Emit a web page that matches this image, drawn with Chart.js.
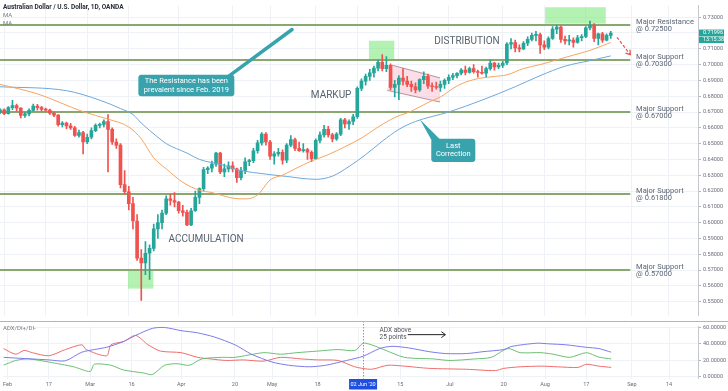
<!DOCTYPE html>
<html>
<head>
<meta charset="utf-8">
<script src="https://cdn.jsdelivr.net/npm/chart.js@4.4.1/dist/chart.umd.min.js"></script>
<style>
  html, body { margin: 0; padding: 0; background: #fff; }
  #wrap { position: relative; width: 728px; height: 391px; overflow: hidden; }
  #price { position: absolute; left: 0; top: 0; }
  #adx { position: absolute; left: 0; top: 321px; }
</style>
</head>
<body>
<div id="wrap">
  <canvas id="price" width="728" height="321"></canvas>
  <canvas id="adx" width="728" height="70"></canvas>
</div>
<script>
// AUD/USD daily candles, Jan 31 .. Aug 25 2020 (trading day index -1 .. 146, Feb 3 = 0)
const opens = [
  0.6697,
  0.6714,0.6690,0.6728,0.6740,0.6725, 0.6678,0.6688,0.6710,0.6738,0.6728,
  0.6716,0.6712,0.6692,0.6680,0.6620, 0.6630,0.6612,0.6600,0.6552,0.6570,
  0.6510,0.6540,0.6582,0.6615,0.6622, 0.6640,0.6590,0.6510,0.6490,0.6240,
  0.6195,0.6120,0.6010,0.5775,0.5745, 0.5806,0.5837,0.5960,0.6000,0.6060,
  0.6150,0.6140,0.6130,0.6075,0.6065, 0.5985,0.6075,0.6160,0.6215,0.6335,
  0.6345,0.6370,0.6440,0.6320,0.6340, 0.6360,0.6340,0.6285,0.6330,0.6385,
  0.6392,0.6455,0.6505,0.6560,0.6510, 0.6420,0.6435,0.6445,0.6395,0.6490,
  0.6525,0.6470,0.6455,0.6462,0.6445, 0.6405,0.6520,0.6555,0.6590,0.6555,
  0.6530,0.6560,0.6650,0.6625,0.6640, 0.6670,0.6850,0.6895,0.6925,0.6948,
  0.6978,0.7015,0.6975,0.6995,0.6855, 0.6875,0.6915,0.6895,0.6875,0.6860,
  0.6840,0.6905,0.6925,0.6865,0.6860, 0.6855,0.6875,0.6900,0.6920,0.6930,
  0.6945,0.6965,0.6950,0.6975,0.6955, 0.6950,0.6945,0.6975,0.7010,0.6985,
  0.6995,0.7010,0.7130,0.7140,0.7105, 0.7100,0.7135,0.7160,0.7185,0.7190,
  0.7125,0.7110,0.7165,0.7225,0.7238, 0.7160,0.7150,0.7155,0.7140,0.7170,
  0.7178,0.7232,0.7250,0.7165,0.7195, 0.7155,0.7185
];
const highs = [
  0.6721,
  0.6720,0.6735,0.6774,0.6750,0.6728, 0.6700,0.6720,0.6750,0.6748,0.6736,
  0.6725,0.6718,0.6700,0.6684,0.6640, 0.6636,0.6628,0.6610,0.6585,0.6578,
  0.6560,0.6600,0.6625,0.6630,0.6650, 0.6684,0.6600,0.6530,0.6500,0.6330,
  0.6230,0.6160,0.6050,0.5830,0.5880, 0.5860,0.5990,0.6050,0.6080,0.6170,
  0.6180,0.6190,0.6135,0.6110,0.6080, 0.6090,0.6200,0.6220,0.6350,0.6355,
  0.6390,0.6445,0.6445,0.6370,0.6385, 0.6385,0.6345,0.6350,0.6410,0.6400,
  0.6470,0.6520,0.6570,0.6570,0.6520, 0.6450,0.6470,0.6460,0.6500,0.6550,
  0.6535,0.6510,0.6500,0.6470,0.6455, 0.6530,0.6575,0.6615,0.6610,0.6565,
  0.6570,0.6660,0.6660,0.6650,0.6685, 0.6860,0.6910,0.6940,0.6970,0.6990,
  0.7030,0.7064,0.7050,0.7005,0.6900, 0.6930,0.6975,0.6925,0.6895,0.6885,
  0.6910,0.6955,0.6940,0.6885,0.6890, 0.6895,0.6910,0.6935,0.6945,0.6950,
  0.6975,0.6990,0.6985,0.7000,0.6965, 0.6990,0.6985,0.7030,0.7015,0.7010,
  0.7020,0.7140,0.7165,0.7155,0.7125, 0.7145,0.7175,0.7200,0.7210,0.7200,
  0.7150,0.7175,0.7240,0.7250,0.7245, 0.7180,0.7185,0.7170,0.7185,0.7190,
  0.7240,0.7276,0.7260,0.7200,0.7205, 0.7195,0.7210
];
const lows = [
  0.6690,
  0.6683,0.6687,0.6715,0.6705,0.6662, 0.6665,0.6675,0.6705,0.6712,0.6705,
  0.6703,0.6685,0.6670,0.6610,0.6605, 0.6595,0.6590,0.6545,0.6540,0.6434,
  0.6500,0.6530,0.6575,0.6600,0.6605, 0.6320,0.6495,0.6470,0.6220,0.6180,
  0.6080,0.5960,0.5760,0.5508,0.5670, 0.5640,0.5820,0.5900,0.5960,0.6050,
  0.6110,0.6100,0.6060,0.6040,0.5980, 0.5980,0.6070,0.6120,0.6200,0.6310,
  0.6320,0.6355,0.6310,0.6290,0.6320, 0.6320,0.6255,0.6270,0.6310,0.6360,
  0.6380,0.6440,0.6490,0.6490,0.6400, 0.6370,0.6420,0.6370,0.6380,0.6480,
  0.6455,0.6450,0.6445,0.6400,0.6385, 0.6400,0.6505,0.6540,0.6540,0.6510,
  0.6520,0.6550,0.6600,0.6590,0.6620, 0.6660,0.6835,0.6870,0.6900,0.6920,
  0.6960,0.6960,0.6955,0.6840,0.6795, 0.6778,0.6870,0.6860,0.6830,0.6820,
  0.6830,0.6880,0.6850,0.6830,0.6845, 0.6830,0.6850,0.6880,0.6905,0.6915,
  0.6935,0.6935,0.6945,0.6945,0.6920, 0.6940,0.6920,0.6965,0.6965,0.6975,
  0.6980,0.7000,0.7100,0.7080,0.7080, 0.7095,0.7120,0.7150,0.7150,0.7070,
  0.7095,0.7100,0.7160,0.7195,0.7140, 0.7130,0.7125,0.7110,0.7135,0.7150,
  0.7170,0.7220,0.7145,0.7125,0.7140, 0.7150,0.7165
];
const closes = [
  0.6714,
  0.6690,0.6728,0.6740,0.6725,0.6678, 0.6688,0.6710,0.6738,0.6728,0.6716,
  0.6712,0.6692,0.6680,0.6620,0.6630, 0.6612,0.6600,0.6552,0.6570,0.6510,
  0.6540,0.6582,0.6615,0.6622,0.6640, 0.6590,0.6510,0.6490,0.6240,0.6195,
  0.6120,0.6010,0.5775,0.5745,0.5806, 0.5837,0.5960,0.6000,0.6060,0.6150,
  0.6140,0.6130,0.6075,0.6065,0.5985, 0.6075,0.6160,0.6215,0.6335,0.6345,
  0.6370,0.6440,0.6320,0.6340,0.6360, 0.6340,0.6285,0.6330,0.6385,0.6392,
  0.6455,0.6505,0.6560,0.6510,0.6420, 0.6435,0.6445,0.6395,0.6490,0.6525,
  0.6470,0.6455,0.6462,0.6445,0.6405, 0.6520,0.6555,0.6590,0.6555,0.6530,
  0.6560,0.6650,0.6625,0.6640,0.6670, 0.6850,0.6895,0.6925,0.6948,0.6978,
  0.7015,0.6975,0.6995,0.6855,0.6875, 0.6915,0.6895,0.6875,0.6860,0.6840,
  0.6905,0.6925,0.6865,0.6860,0.6855, 0.6875,0.6900,0.6920,0.6930,0.6945,
  0.6965,0.6950,0.6975,0.6955,0.6950, 0.6945,0.6975,0.7010,0.6985,0.6995,
  0.7010,0.7130,0.7140,0.7105,0.7100, 0.7135,0.7160,0.7185,0.7190,0.7125,
  0.7110,0.7165,0.7225,0.7238,0.7160, 0.7150,0.7155,0.7140,0.7170,0.7178,
  0.7232,0.7250,0.7165,0.7195,0.7155, 0.7185,0.7200
];
const firstDay = -1;

// moving averages (trading day index -> price)
const maFastDays = [-1, 8, 19, 25, 30, 33, 36, 39, 43, 47, 50, 55, 58, 61, 64, 67, 70, 74, 78, 82, 86, 90, 94, 98, 102, 105, 109, 113, 118, 121, 125, 129, 133, 137, 141, 146];
const maFast = [0.6875, 0.6815, 0.6702, 0.6655, 0.6605, 0.6530, 0.6410, 0.6340, 0.6255, 0.6205, 0.6190, 0.6155, 0.6150, 0.6175, 0.6270, 0.6300, 0.6340, 0.6390, 0.6430, 0.6480, 0.6535, 0.6605, 0.6665, 0.6705, 0.6760, 0.6795, 0.6865, 0.6905, 0.6925, 0.6935, 0.6975, 0.7000, 0.7030, 0.7060, 0.7090, 0.7140];
const maSlowDays = [-1, 15, 23, 28, 31, 33, 37, 39, 44, 47, 53, 56, 60, 68, 75, 79, 83, 87, 91, 95, 99, 107, 115, 123, 129, 135, 141, 146];
const maSlow = [0.6860, 0.6835, 0.6775, 0.6722, 0.6684, 0.6630, 0.6540, 0.6500, 0.6440, 0.6400, 0.6362, 0.6335, 0.6317, 0.6292, 0.6274, 0.6294, 0.6355, 0.6430, 0.6515, 0.6590, 0.6640, 0.6700, 0.6775, 0.6860, 0.6930, 0.6990, 0.7025, 0.7055];

// ADX / DI+ / DI-
const adxDays = [-1, 10, 14, 18, 24, 28, 31, 35, 38, 42, 46, 50, 55, 59, 64, 68, 73, 77, 82, 86, 90, 93, 97, 102, 106, 111, 115, 120, 122, 128, 131, 135, 140, 143, 146];
const adx = [23.7, 20.6, 19.5, 30.0, 36.0, 42.8, 50.4, 58.9, 60.0, 56.2, 53.5, 48.5, 39.0, 27.5, 18.0, 14.1, 12.2, 14.1, 19.9, 25.0, 34.4, 37.1, 35.2, 30.6, 28.3, 28.3, 30.6, 33.2, 37.1, 40.9, 40.1, 39.0, 35.9, 34.4, 30.0];
const diPlusDays = [-1, 2, 5, 10, 16, 20, 21, 25, 28, 33, 35, 38, 41, 44, 47, 52, 55, 62, 66, 70, 75, 80, 84, 86, 88, 91, 96, 103, 107, 113, 117, 121, 124, 129, 132, 136, 140, 143, 146];
const diPlus = [14.1, 19.9, 21.8, 18.0, 12.2, 6.5, 15.3, 14.1, 8.4, 4.6, 2.7, 14.1, 16.0, 14.1, 21.8, 23.7, 23.7, 29.4, 27.5, 29.4, 31.3, 33.2, 32.0, 40.9, 39.0, 33.2, 23.7, 21.8, 19.9, 21.8, 23.7, 34.4, 29.4, 29.4, 27.5, 23.7, 29.4, 24.0, 21.8];
const diMinusDays = [-1, 2, 4, 6, 10, 14, 18, 19, 24, 25, 28, 31, 34, 37, 42, 46, 49, 53, 57, 62, 66, 71, 75, 80, 84, 88, 92, 96, 102, 111, 118, 120, 124, 129, 133, 138, 140, 143, 146];
const diMinus = [34.4, 27.5, 32.1, 29.4, 25.6, 33.2, 39.0, 33.2, 25.6, 39.0, 42.8, 50.4, 39.0, 31.3, 29.4, 23.7, 21.8, 19.9, 20.6, 19.1, 23.7, 21.8, 20.6, 19.9, 12.2, 9.2, 14.1, 13.0, 10.3, 9.2, 7.6, 10.3, 12.2, 13.0, 12.2, 11.5, 15.3, 13.0, 11.5];

// axes
const tickDays = [0, 10, 20, 30, 42, 55, 64, 75, 85, 95, 107, 120, 130, 140, 151, 160];
const tickText = ['Feb', '17', 'Mar', '16', 'Apr', '20', 'May', '18', 'Jun', '15', 'Jul', '20', 'Aug', '17', 'Sep', '14'];
const priceTicks = [0.55, 0.56, 0.57, 0.58, 0.59, 0.60, 0.61, 0.62, 0.63, 0.64, 0.65, 0.66, 0.67, 0.68, 0.69, 0.70, 0.71, 0.72, 0.73];
const adxTicks = [0, 20, 40, 60];

// support / resistance levels
const levelPrices = [0.725, 0.703, 0.67, 0.618, 0.57];
const levelNames = ['Major Resistance', 'Major Support', 'Major Support', 'Major Support', 'Major Support'];
const lastPrice = 0.71996;

Chart.defaults.font.family = "Roboto, 'Liberation Sans', sans-serif";
const UP = '#26a69a', DOWN = '#ef5350';
const GRID = '#eef1f6';
const AXIS_TXT = '#6a6d78';
const candleColor = ctx => closes[ctx.dataIndex] >= opens[ctx.dataIndex] ? UP : DOWN;

const days = closes.map((c, i) => firstDay + i);
const xScale = () => ({
  type: 'linear', min: -1, max: 167, offset: false,
  grid: { color: GRID, drawTicks: false, offset: false },
  border: { display: false },
  afterBuildTicks: s => { s.ticks = tickDays.map(v => ({ value: v })); }
});

function roundRect(ctx, x, y, w, h, r) {
  ctx.beginPath();
  ctx.moveTo(x + r, y);
  ctx.arcTo(x + w, y, x + w, y + h, r);
  ctx.arcTo(x + w, y + h, x, y + h, r);
  ctx.arcTo(x, y + h, x, y, r);
  ctx.arcTo(x, y, x + w, y, r);
  ctx.closePath();
}

const priceMarks = {
  id: 'priceMarks',
  beforeDatasetsDraw(chart) {
    const { ctx } = chart;
    const X = v => chart.scales.x.getPixelForValue(v);
    const Y = v => chart.scales.y.getPixelForValue(v);
    ctx.save();
    // green zones
    ctx.fillStyle = 'rgba(128, 234, 128, 0.6)';
    [[130.2, 144.8, 0.7363, 0.7259], [87.8, 93.9, 0.7151, 0.7034], [29.8, 35.9, 0.5705, 0.5582]].forEach(z => {
      ctx.fillRect(X(z[0]), Y(z[2]), X(z[1]) - X(z[0]), Y(z[3]) - Y(z[2]));
    });
    // flag channel
    const flag = [[93.4, 0.6996], [104.9, 0.6916], [104.9, 0.6763], [92.2, 0.6837]];
    ctx.beginPath();
    flag.forEach((p, i) => i ? ctx.lineTo(X(p[0]), Y(p[1])) : ctx.moveTo(X(p[0]), Y(p[1])));
    ctx.closePath();
    ctx.fillStyle = 'rgba(249, 190, 205, 0.5)';
    ctx.fill();
    ctx.strokeStyle = 'rgba(170, 140, 150, 0.9)';
    ctx.lineWidth = 1;
    ctx.beginPath();
    ctx.moveTo(X(flag[0][0]), Y(flag[0][1])); ctx.lineTo(X(flag[1][0]), Y(flag[1][1]));
    ctx.moveTo(X(flag[3][0]), Y(flag[3][1])); ctx.lineTo(X(flag[2][0]), Y(flag[2][1]));
    ctx.stroke();
    // levels
    ctx.strokeStyle = '#88a771';
    ctx.lineWidth = 2;
    levelPrices.forEach(p => {
      ctx.beginPath();
      ctx.moveTo(X(-1), Math.round(Y(p)));
      ctx.lineTo(X(150.7), Math.round(Y(p)));
      ctx.stroke();
    });
    ctx.restore();
  },
  afterDatasetsDraw(chart) {
    const { ctx } = chart;
    const X = v => chart.scales.x.getPixelForValue(v);
    const Y = v => chart.scales.y.getPixelForValue(v);
    ctx.save();
    // level labels
    ctx.fillStyle = '#5b6575';
    ctx.font = '7.5px Roboto';
    ctx.textAlign = 'left';
    ctx.textBaseline = 'middle';
    levelPrices.forEach((p, i) => {
      ctx.fillText(levelNames[i], X(152.1), Y(p) - 3);
      ctx.fillText('@ ' + p.toFixed(5), X(152.1), Y(p) + 4);
    });
    // phase labels
    ctx.fillStyle = '#59636f';
    ctx.font = '10px Roboto';
    ctx.textAlign = 'center';
    ctx.fillText('ACCUMULATION', X(48.6), Y(0.5894));
    ctx.fillText('MARKUP', X(78.7), Y(0.6806));
    ctx.fillText('DISTRIBUTION', X(111.4), Y(0.7149));
    // callout 1
    const teal = '#38a3ad';
    ctx.strokeStyle = teal;
    ctx.lineWidth = 3.5;
    ctx.lineCap = 'round';
    ctx.beginPath();
    ctx.moveTo(X(54.0), Y(0.6925));
    ctx.lineTo(X(69.3), Y(0.7222));
    ctx.stroke();
    ctx.fillStyle = teal;
    roundRect(ctx, X(32.3), Y(0.6936), X(55.4) - X(32.3), Y(0.6800) - Y(0.6936), 3);
    ctx.fill();
    ctx.fillStyle = '#fff';
    ctx.font = '7.5px Roboto';
    const c1x = (X(32.3) + X(55.4)) / 2, c1y = (Y(0.6936) + Y(0.6800)) / 2;
    ctx.fillText('The Resistance has been', c1x, c1y - 4.5);
    ctx.fillText('prevalent since Feb. 2019', c1x, c1y + 4.5);
    // callout 2
    ctx.fillStyle = teal;
    ctx.beginPath();
    ctx.moveTo(X(100.1), Y(0.6653));
    ctx.lineTo(X(102.9), Y(0.6520));
    ctx.lineTo(X(105.0), Y(0.6525));
    ctx.closePath();
    ctx.fill();
    roundRect(ctx, X(102.8), Y(0.6530), X(113.4) - X(102.8), Y(0.6383) - Y(0.6530), 3);
    ctx.fill();
    ctx.fillStyle = '#fff';
    const c2x = (X(102.8) + X(113.4)) / 2, c2y = (Y(0.6530) + Y(0.6383)) / 2;
    ctx.fillText('Last', c2x, c2y - 4);
    ctx.fillText('Correction', c2x, c2y + 4);
    // red dashed arrow
    const ax0 = X(147.5), ay0 = Y(0.7173), ax1 = X(150.7), ay1 = Y(0.7063);
    ctx.strokeStyle = '#e5534b';
    ctx.lineWidth = 1.2;
    ctx.lineCap = 'butt';
    ctx.setLineDash([3, 2]);
    ctx.beginPath(); ctx.moveTo(ax0, ay0); ctx.lineTo(ax1, ay1); ctx.stroke();
    ctx.setLineDash([]);
    const ang = Math.atan2(ay1 - ay0, ax1 - ax0);
    ctx.beginPath();
    ctx.moveTo(ax1 - 5 * Math.cos(ang - 0.6), ay1 - 5 * Math.sin(ang - 0.6));
    ctx.lineTo(ax1, ay1);
    ctx.lineTo(ax1 - 5 * Math.cos(ang + 0.6), ay1 - 5 * Math.sin(ang + 0.6));
    ctx.stroke();
    ctx.restore();
  },
  afterDraw(chart) {
    const { ctx } = chart;
    const Y = v => chart.scales.y.getPixelForValue(v);
    ctx.save();
    ctx.textAlign = 'left';
    ctx.textBaseline = 'middle';
    ctx.fillStyle = '#2a2e39';
    ctx.font = 'bold 6.5px Roboto';
    ctx.fillText('Australian Dollar / U.S. Dollar, 1D, OANDA', 3, 7);
    ctx.fillStyle = '#787b86';
    ctx.font = '6px Roboto';
    ctx.fillText('MA', 3, 15);
    ctx.fillText('MA', 3, 23.5);
    // last price badges
    const ly = Y(lastPrice);
    ctx.fillStyle = UP;
    ctx.fillRect(699, ly - 3.5, 25, 6.5);
    ctx.fillRect(699, ly + 3.5, 25, 6.5);
    ctx.fillStyle = '#fff';
    ctx.font = '5.5px Roboto';
    ctx.fillText(lastPrice.toFixed(5), 703, ly - 0.2);
    ctx.fillText('13:15:38', 703, ly + 6.8);
    ctx.restore();
  }
};

new Chart(document.getElementById('price'), {
  type: 'bar',
  data: {
    datasets: [
      {
        label: 'wicks',
        data: days.map((d, i) => ({ x: d, y: [lows[i], highs[i]] })),
        backgroundColor: candleColor,
        barThickness: 1,
        grouped: false,
        order: 3
      },
      {
        label: 'bodies',
        data: days.map((d, i) => ({ x: d, y: [opens[i], closes[i]] })),
        backgroundColor: candleColor,
        barThickness: 3,
        minBarLength: 1,
        grouped: false,
        order: 2
      },
      {
        type: 'line',
        label: 'MA fast',
        data: maFastDays.map((d, i) => ({ x: d, y: maFast[i] })),
        borderColor: '#f7a460',
        borderWidth: 1,
        pointRadius: 0,
        cubicInterpolationMode: 'monotone',
        order: 1
      },
      {
        type: 'line',
        label: 'MA slow',
        data: maSlowDays.map((d, i) => ({ x: d, y: maSlow[i] })),
        borderColor: '#6fa8dc',
        borderWidth: 1,
        pointRadius: 0,
        cubicInterpolationMode: 'monotone',
        order: 1
      }
    ]
  },
  options: {
    responsive: false,
    animation: false,
    devicePixelRatio: 1,
    layout: { padding: 0 },
    plugins: { legend: { display: false }, tooltip: { enabled: false } },
    scales: {
      x: Object.assign(xScale(), {
        ticks: { display: false },
        afterFit: s => { s.height = 0; }
      }),
      y: {
        position: 'right',
        min: 0.54108, max: 0.73753,
        grid: { color: GRID, tickLength: 3, tickColor: '#b2b5be' },
        border: { color: '#c5c8cf' },
        ticks: { color: AXIS_TXT, font: { size: 5.5 }, padding: 2, callback: v => v.toFixed(5) },
        afterBuildTicks: s => { s.ticks = priceTicks.map(v => ({ value: v })); },
        afterFit: s => { s.width = 30; }
      }
    }
  },
  plugins: [priceMarks]
});

const adxMarks = {
  id: 'adxMarks',
  afterDatasetsDraw(chart) {
    const { ctx, chartArea: a } = chart;
    const X = v => chart.scales.x.getPixelForValue(v);
    const Y = v => chart.scales.y.getPixelForValue(v);
    ctx.save();
    // crosshair
    ctx.strokeStyle = '#9598a1';
    ctx.lineWidth = 1;
    ctx.setLineDash([1.5, 1.5]);
    ctx.beginPath();
    ctx.moveTo(Math.round(X(86)) + 0.5, 0);
    ctx.lineTo(Math.round(X(86)) + 0.5, a.bottom);
    ctx.stroke();
    ctx.setLineDash([]);
    // text
    ctx.textAlign = 'left';
    ctx.textBaseline = 'middle';
    ctx.fillStyle = '#787b86';
    ctx.font = '6px Roboto';
    ctx.fillText('ADX/DI+/DI-', 3, 7);
    ctx.fillStyle = '#50535e';
    ctx.font = '6.5px Roboto';
    ctx.fillText('ADX above', X(90), Y(56.2));
    ctx.fillText('25 points', X(90), Y(48.5));
    // arrow
    const y0 = Y(51.3), x0 = X(96.8), x1 = X(105.9);
    ctx.strokeStyle = '#222';
    ctx.lineWidth = 1;
    ctx.beginPath();
    ctx.moveTo(x0, y0); ctx.lineTo(x1, y0);
    ctx.moveTo(x1 - 4, y0 - 3); ctx.lineTo(x1, y0); ctx.lineTo(x1 - 4, y0 + 3);
    ctx.stroke();
    ctx.restore();
  },
  afterDraw(chart) {
    const { ctx } = chart;
    const X = v => chart.scales.x.getPixelForValue(v);
    ctx.save();
    // pane separator
    ctx.strokeStyle = '#b2b5be';
    ctx.lineWidth = 1;
    ctx.beginPath();
    ctx.moveTo(0, 0.5); ctx.lineTo(728, 0.5);
    ctx.stroke();
    // crosshair date label
    const cx = X(86);
    ctx.fillStyle = '#1f4fe0';
    ctx.fillRect(cx - 14, 58, 28, 10.5);
    ctx.fillStyle = '#fff';
    ctx.font = '5.5px Roboto';
    ctx.textAlign = 'center';
    ctx.textBaseline = 'middle';
    ctx.fillText("02 Jun '20", cx, 63.3);
    ctx.restore();
  }
};

const adxLine = (days, vals, color) => ({
  data: days.map((d, i) => ({ x: d, y: vals[i] })),
  borderColor: color,
  borderWidth: 1,
  pointRadius: 0,
  tension: 0.25
});

new Chart(document.getElementById('adx'), {
  type: 'line',
  data: {
    datasets: [
      adxLine(adxDays, adx, '#7b7cec'),
      adxLine(diPlusDays, diPlus, '#6cbf73'),
      adxLine(diMinusDays, diMinus, '#f06d6d')
    ]
  },
  options: {
    responsive: false,
    animation: false,
    devicePixelRatio: 1,
    layout: { padding: { top: 1 } },
    plugins: { legend: { display: false }, tooltip: { enabled: false } },
    scales: {
      x: Object.assign(xScale(), {
        ticks: {
          color: AXIS_TXT, font: { size: 5.5 }, padding: 3, maxRotation: 0, autoSkip: false,
          callback: v => tickText[tickDays.indexOf(v)]
        },
        afterFit: s => { s.height = 12.5; }
      }),
      y: {
        position: 'right',
        min: -2.02, max: 61.46,
        grid: { color: GRID, tickLength: 3, tickColor: '#b2b5be' },
        border: { color: '#c5c8cf' },
        ticks: { color: AXIS_TXT, font: { size: 5.5 }, padding: 2, callback: v => v.toFixed(5) },
        afterBuildTicks: s => { s.ticks = adxTicks.map(v => ({ value: v })); },
        afterFit: s => { s.width = 30; }
      }
    }
  },
  plugins: [adxMarks]
});
</script>
</body>
</html>
